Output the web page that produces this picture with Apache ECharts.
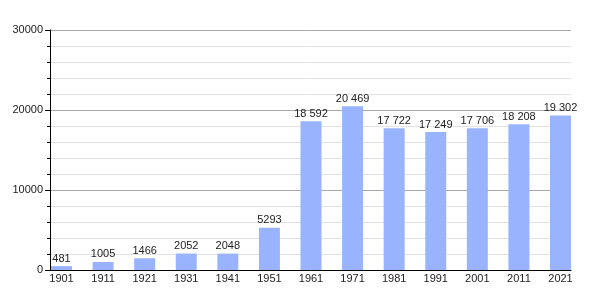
<!DOCTYPE html>
<html>
<head>
<meta charset="utf-8">
<script src="https://cdn.jsdelivr.net/npm/echarts@6/dist/echarts.min.js"></script>
<style>html,body{margin:0;padding:0;background:#fff}#c{width:600px;height:300px}</style>
</head>
<body>
<div id="c"></div>
<script>
const years = ['1901','1911','1921','1931','1941','1951','1961','1971','1981','1991','2001','2011','2021'];
const population = [481, 1005, 1466, 2052, 2048, 5293, 18592, 20469, 17722, 17249, 17706, 18208, 19302];
const yTicks = [0, 10000, 20000, 30000];

function fmtVal(v) {
  if (v < 10000) return String(v);
  return String(v).replace(/\B(?=(\d{3})+(?!\d))/g, ' ');
}

const chart = echarts.init(document.getElementById('c'), null, {renderer: 'canvas'});
const font = 'Liberation Sans, Arial, sans-serif';
chart.setOption({
  animation: false,
  grid: {left: 50, right: 29, top: 30, bottom: 30, containLabel: false},
  xAxis: {
    type: 'value',
    min: -0.2766,
    max: 12.2525,
    splitLine: {show: false},
    axisLine: {show: true, onZero: false, lineStyle: {color: '#000', width: 1}},
    axisTick: {show: false},
    axisLabel: {
      customValues: years.map((y, i) => i),
      formatter: v => years[Math.round(v)],
      color: '#222', fontSize: 11, fontFamily: font, margin: 3
    }
  },
  yAxis: {
    type: 'value',
    min: yTicks[0],
    max: yTicks[yTicks.length - 1],
    interval: 10000,
    axisLine: {show: true, onZero: false, lineStyle: {color: '#000', width: 1}},
    axisTick: {show: true, length: 5, lineStyle: {color: '#000'}},
    minorTick: {show: true, splitNumber: 5, length: 3, lineStyle: {color: '#000'}},
    splitLine: {show: true, lineStyle: {color: '#a8a8a8', width: 1}},
    minorSplitLine: {show: true, lineStyle: {color: '#e2e2e2', width: 1}},
    axisLabel: {
      formatter: v => String(v),
      color: '#222', fontSize: 11, fontFamily: font, margin: 7
    }
  },
  series: [{
    type: 'bar',
    barWidth: 21,
    data: population.map((v, i) => [i, v]),
    itemStyle: {color: '#99b3ff'},
    label: {
      show: true, position: 'top', distance: 2,
      color: '#222', fontSize: 11, fontFamily: font,
      formatter: p => fmtVal(p.value[1])
    }
  }]
});
</script>
</body>
</html>
